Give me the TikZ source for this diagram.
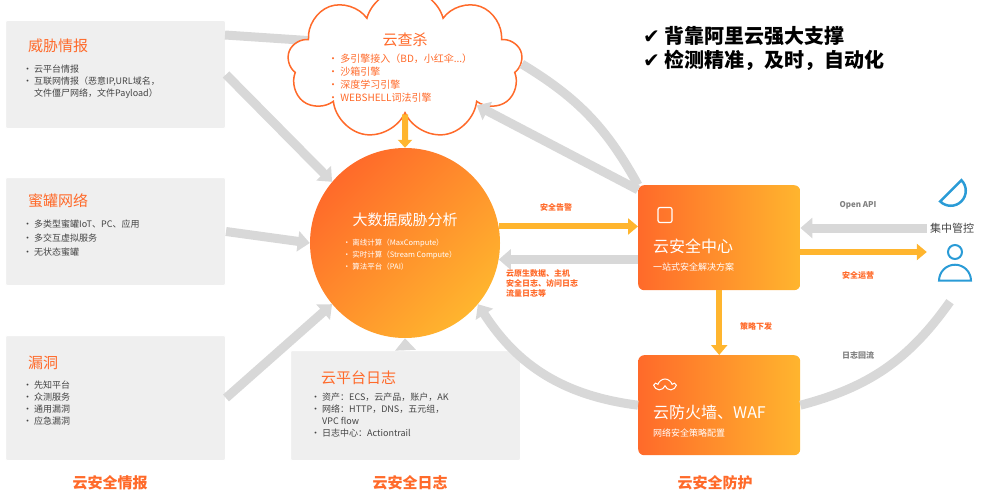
\documentclass[tikz,border=0pt]{standalone}
\usepackage{fontspec}
\setmainfont{Noto Sans CJK SC}
\newfontfamily\symfont{DejaVu Sans}
\usetikzlibrary{arrows.meta,shapes.geometric,shapes.symbols}
\definecolor{ygorange}{HTML}{FF6A2A}
\definecolor{ygyellow}{HTML}{FFB52E}
\definecolor{yggray}{HTML}{D8D8D8}
\definecolor{ygbox}{HTML}{EFEFEF}
\definecolor{ygblue}{HTML}{2A9BD6}
\definecolor{ygtext}{HTML}{444444}
\begin{document}
\begin{tikzpicture}[x=1pt, y=-1pt, inner sep=3pt]
		\tikzset{
			graybox/.style={fill=ygbox, draw=white, line width=1pt, rounded corners=2pt},
			orangebox/.style={left color=ygorange, right color=ygyellow, rounded corners=6pt, draw=none},
			grayarrow/.style={draw=yggray, line width=9pt, -{Triangle[length=12pt, width=20pt]}},
			orangearrow/.style={draw=ygyellow, line width=6pt, -{Triangle[length=10pt, width=16pt]}},
			title/.style={font=\fontsize{15}{17}\selectfont, text=ygorange, anchor=west},
			items/.style={font=\fontsize{9}{12}\selectfont, text=ygtext, anchor=north west, align=left},
			tag/.style={font=\fontsize{8}{10}\selectfont\bfseries, text=ygorange},
			foot/.style={font=\fontsize{15}{17}\selectfont\bfseries, text=ygorange}
		}
			\useasboundingbox (0,0) rectangle (984,500);
			% left column
			\node[graybox, minimum width=220, minimum height=108, anchor=north west] (intel) at (5,20) {};
			\node[title] (inteltitle) at (25,46) {威胁情报};
			\node[items] (intelitems) at (20,62) {• 云平台情报\\• 互联网情报（恶意IP,URL域名，\\\phantom{• }文件僵尸网络，文件Payload）};
			\node[graybox, minimum width=220, minimum height=108, anchor=north west] (honey) at (5,177) {};
			\node[title] (honeytitle) at (25,201) {蜜罐网络};
			\node[items] (honeyitems) at (20,217) {• 多类型蜜罐IoT、PC、应用\\[2pt]• 多交互虚拟服务\\[2pt]• 无状态蜜罐};
			\node[graybox, minimum width=220, minimum height=125, anchor=north west] (vuln) at (5,335) {};
			\node[title] (vulntitle) at (25,363) {漏洞};
			\node[items] (vulnitems) at (20,378) {• 先知平台\\• 众测服务\\• 通用漏洞\\• 应急漏洞};
			% top connector drawn first, under the cloud
			\draw[draw=yggray, line width=9pt] (225,35) -- (330,42);
			% cloud
			\node[cloud, cloud puffs=9, aspect=2, minimum width=235, minimum height=150, fill=white, draw=ygorange, line width=1.5pt] (cloudscan) at (405,64) {};
			\node[font=\fontsize{15}{17}\selectfont, text=ygorange] (cloudtitle) at (405,40) {云查杀};
			\node[items, text=ygorange, font=\fontsize{10}{13}\selectfont] (clouditems) at (325,51) {• 多引擎接入（BD，小红伞...）\\• 沙箱引擎\\• 深度学习引擎\\• WEBSHELL词法引擎};
			% center
			\node[circle, minimum size=190, left color=ygorange, right color=ygyellow, shading angle=45] (bigdata) at (405,243) {};
			\node[font=\fontsize{15}{17}\selectfont, text=white] (bigtitle) at (405,220) {大数据威胁分析};
			\node[items, text=white, font=\fontsize{7.5}{12}\selectfont] (bigitems) at (340,236) {• 离线计算（MaxCompute）\\• 实时计算（Stream Compute）\\• 算法平台（PAI）};
			% log
			\node[graybox, minimum width=230, minimum height=110, anchor=north west] (logs) at (290,350) {};
			\node[title] (logtitle) at (318,378) {云平台日志};
			\node[items] (logitems) at (308,390) {• 资产：ECS，云产品，账户，AK\\• 网络：HTTP，DNS，五元组，\\\phantom{• }VPC flow\\• 日志中心：Actiontrail};
			% right boxes
			\node[orangebox, minimum width=162, minimum height=105, anchor=north west] (secenter) at (638,185) {};
			\node[draw=white, line width=1.2pt, minimum width=14, minimum height=15, rounded corners=2pt] (secicon) at (665,215) {};
			\node[font=\fontsize{16}{18}\selectfont, text=white, anchor=west] (sectitle) at (650,246) {云安全中心};
			\node[font=\fontsize{9}{11}\selectfont, text=white, anchor=west] (secsub) at (650,267) {一站式安全解决方案};
			\node[orangebox, minimum width=162, minimum height=100, anchor=north west] (firewall) at (638,355) {};
			\node[cloud, cloud puffs=5, draw=white, line width=1pt, minimum width=20, minimum height=12, inner sep=0pt] (fwicon) at (665,385) {};
			\node[font=\fontsize{16}{18}\selectfont, text=white, anchor=west] (fwtitle) at (650,412) {云防火墙、WAF};
			\node[font=\fontsize{9}{11}\selectfont, text=white, anchor=west] (fwsub) at (650,433) {网络安全策略配置};
			% right icons
			\node[draw=ygblue, line width=2.5pt, semicircle, rotate=-135, minimum width=30, inner sep=0pt] (dish) at (955,195) {};
			\node[fill=white, font=\fontsize{11}{13}\selectfont, text=ygtext] (central) at (952,228) {集中管控};
			\node[draw=ygblue, line width=2pt, circle, minimum size=14] (userhead) at (955,252) {};
			\node[draw=ygblue, line width=2pt, semicircle, minimum width=32] (userbody) at (955,274) {};
			% top-right notes
			\node[font=\fontsize{20}{24}\selectfont\bfseries, anchor=west, align=left, text=black] (notes) at (640,48) {{\symfont ✔} 背靠阿里云强大支撑\\{\symfont ✔} 检测精准，及时，自动化};
			% connectors
			\draw[grayarrow] (intel.east) -- (bigdata.140);
			\draw[grayarrow] (honey.east) -- (bigdata.180);
			\draw[grayarrow] (vuln.east) -- (bigdata.220);
			\draw[draw=ygyellow, line width=6pt, -{Triangle[length=8pt, width=14pt]}] (cloudscan.south) -- (bigdata.north);
			\draw[grayarrow] (logs.north) -- (bigdata.south);
			\draw[orangearrow] (bigdata.10) -- (secenter.west |- bigdata.10);
			\draw[grayarrow] (secenter.west |- bigdata.-10) -- (bigdata.-10);
			\draw[draw=yggray, line width=9pt] (cloudscan.east) to[bend left=15] (secenter.north west);
			\draw[grayarrow] (secenter.155) ++(0,-10) -- (cloudscan.-30);
			\draw[grayarrow] (firewall.west) to[bend left=25] (bigdata.-40);
			\draw[orangearrow] (secenter.south) -- (firewall.north);
			\draw[grayarrow] (central.west) -- (secenter.east |- central.west);
			\draw[orangearrow] (secenter.east |- userhead.east) -- (userhead.west -| central.west);
			\draw[draw=yggray, line width=9pt] (userbody.south) ++(-5,20) to[bend left=20] (firewall.east);
			% labels
			\node[tag] (alarm) at (556,207) {安全告警};
			\node[tag, align=left, anchor=north west] (feedback) at (503,266) {云原生数据、主机\\安全日志、访问日志\\流量日志等};
			\node[tag, text=gray] (openapi) at (858,205) {Open API};
			\node[tag] (secops) at (858,275) {安全运营};
			\node[tag] (policy) at (756,326) {策略下发};
			\node[tag, text=gray] (logback) at (858,355) {日志回流};
			\node[foot] (foot1) at (110,483) {云安全情报};
			\node[foot] (foot2) at (410,483) {云安全日志};
			\node[foot] (foot3) at (715,483) {云安全防护};
		\end{tikzpicture}
\end{document}
